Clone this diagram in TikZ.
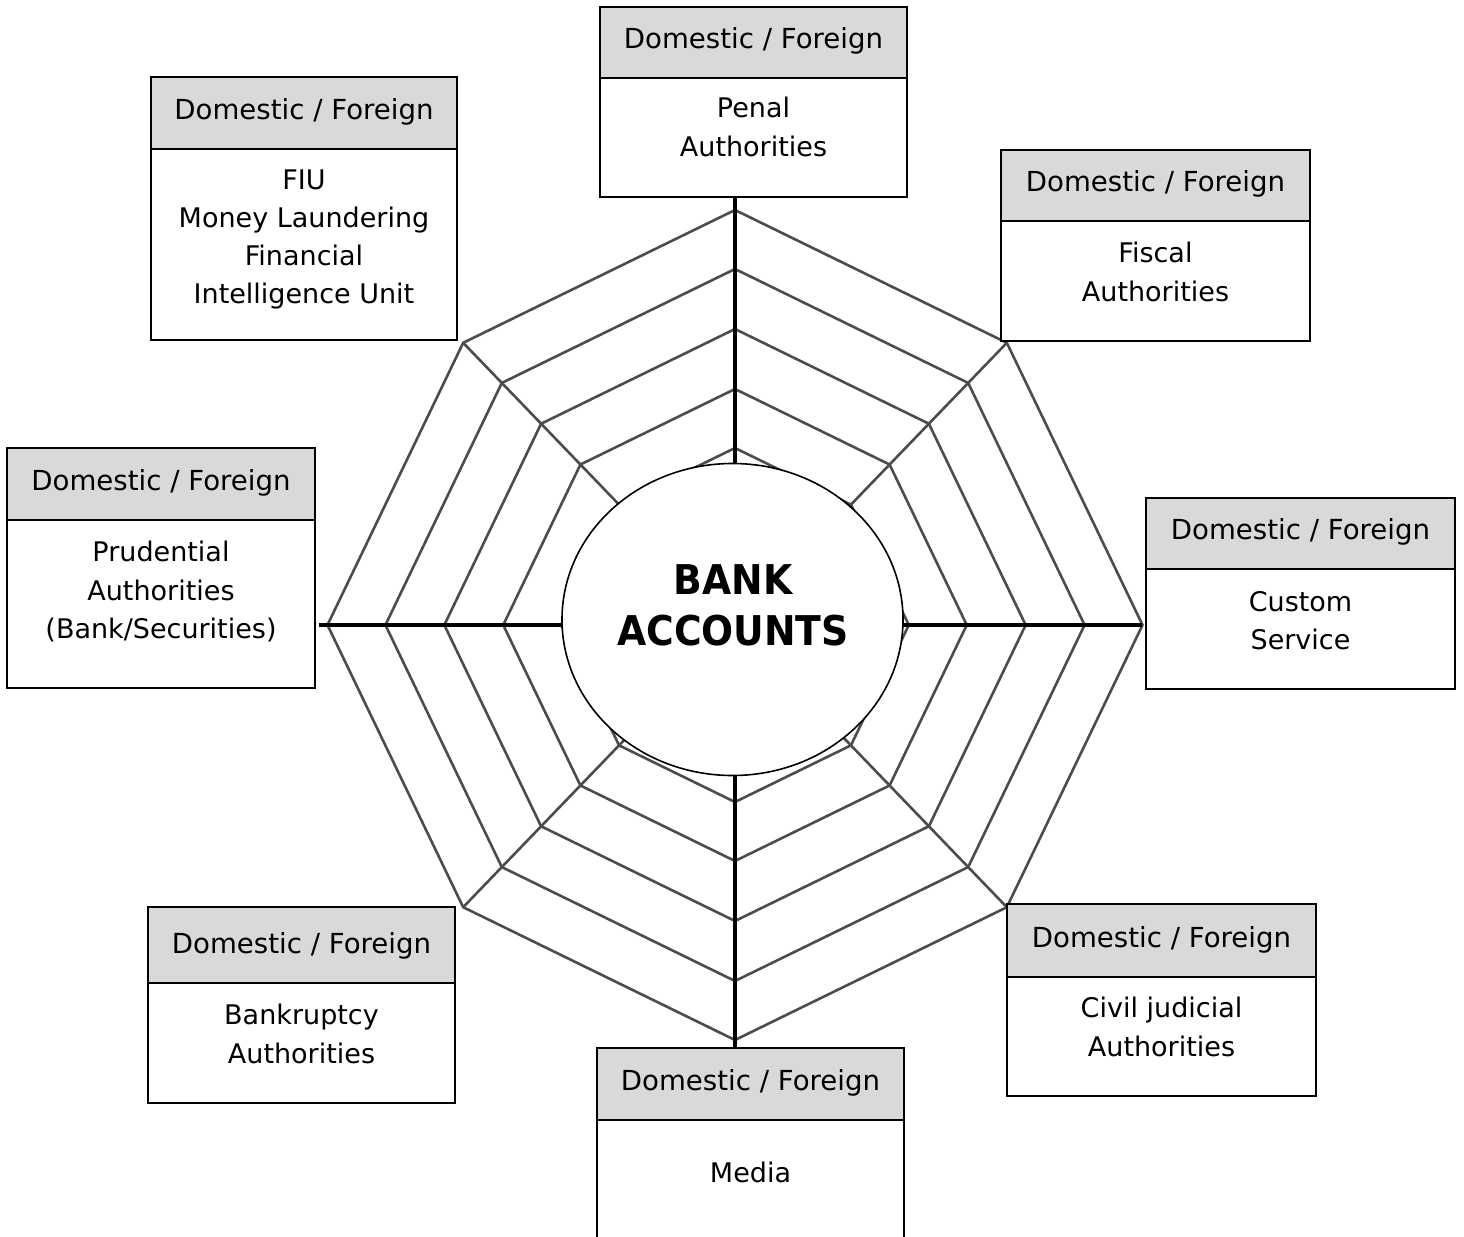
\documentclass[tikz,border=0pt]{standalone}
\usepackage{fontspec}
\setmainfont{DejaVu Sans}
\newfontfamily\hubfont[FakeStretch=0.92]{DejaVu Sans}
\usetikzlibrary{fit,shapes.geometric}

% One agency box: name, left, right, top, divider, bottom (pixel units)
\newcommand\agencybox[6]{%
  \node[bodybox, fit={(#2,#5) (#3,#6)}] (#1) {};
  \node[hdrbox, fit={(#2,#4) (#3,#5)}] (#1-h) {};
  \node[hdrtext] (#1-t) at ({(#2+#3)/2},{#5-30}) {Domestic / Foreign};
}

\begin{document}
\begin{tikzpicture}[x=0.5pt,y=-0.5pt,
  hdrbox/.style={draw=black, line width=0.85pt, fill=black!15, inner sep=0pt},
  bodybox/.style={draw=black, line width=0.85pt, fill=white, inner sep=0pt},
  hdrtext/.style={anchor=base, inner sep=0pt, font=\fontsize{13.8}{19.15}\selectfont},
  bodytext/.style={anchor=north, inner sep=0pt, align=center, font=\fontsize{13.5}{19.15}\selectfont},
  ring/.style={draw=black!70, line width=1.3pt, line join=miter},
  ray/.style={draw=black!70, line width=1.3pt},
  axis/.style={draw=black, line width=1.6pt},
  hub/.style={draw=black, line width=0.8pt, fill=white, ellipse, inner sep=0pt,
    minimum width=170.5pt, minimum height=156pt},
]
\useasboundingbox (0,0) rectangle (1464,1237);
\clip (0,0) rectangle (1464,1237);

% centre of the web
\coordinate (web) at (735,625);

% concentric octagonal rings
\foreach \r in {415,356,296,236,177} {
  \draw[ring] (735,{625-\r}) -- ({735+0.655*\r},{625-0.68*\r})
    -- ({735+0.982*\r},625) -- ({735+0.655*\r},{625+0.68*\r})
    -- (735,{625+\r}) -- ({735-0.655*\r},{625+0.68*\r})
    -- ({735-0.982*\r},625) -- ({735-0.655*\r},{625-0.68*\r}) -- cycle;
}

% outer corners on the diagonals
\coordinate (o-ne) at ({735+0.655*415},{625-0.68*415});
\coordinate (o-se) at ({735+0.655*415},{625+0.68*415});
\coordinate (o-sw) at ({735-0.655*415},{625+0.68*415});
\coordinate (o-nw) at ({735-0.655*415},{625-0.68*415});
\foreach \c in {o-ne,o-se,o-sw,o-nw} { \draw[ray] (web) -- (\c); }

% agency boxes
\agencybox{penal}{600}{907}{7}{78}{197}
\agencybox{fiu}{151}{457}{77}{149}{340}
\agencybox{fiscal}{1001}{1310}{150}{221}{341}
\agencybox{prud}{7}{315}{448}{520}{688}
\agencybox{custom}{1146}{1455}{498}{569}{689}
\agencybox{bankr}{148}{455}{907}{983}{1103}
\agencybox{civil}{1007}{1316}{904}{977}{1096}
\agencybox{media}{597}{904}{1048}{1120}{1245}

% main axes from the boxes to the centre
\draw[axis] (penal.south -| web) -- (web);
\draw[axis] (media-h.north -| web) -- (web);
\draw[axis, shorten <=1.5pt] (prud.east |- web) -- (web);
\draw[axis, shorten <=1.5pt] (custom.west |- web) -- (web);

% central ellipse
\node[hub] (hub) at (732.5,619.5) {};
\node[inner sep=0pt, align=center, font=\hubfont\bfseries\fontsize{20.5}{25.5}\selectfont]
  (hub-t) at (733,605.5) {BANK\\ACCOUNTS};

% box contents
\node[bodytext] (penal-l) at (753.5,97) {Penal\\Authorities};
\node[bodytext] (fiu-l) at (304,169) {FIU\\Money Laundering\\Financial\\Intelligence Unit};
\node[bodytext] (fiscal-l) at (1155.5,242) {Fiscal\\Authorities};
\node[bodytext] (prud-l) at (161,541) {Prudential\\Authorities\\(Bank/Securities)};
\node[bodytext] (custom-l) at (1300.5,591) {Custom\\Service};
\node[bodytext] (bankr-l) at (301.5,1004) {Bankruptcy\\Authorities};
\node[bodytext] (civil-l) at (1161.5,997) {Civil judicial\\Authorities};
\node[bodytext] (media-l) at (750.5,1162) {Media};
\end{tikzpicture}
\end{document}
